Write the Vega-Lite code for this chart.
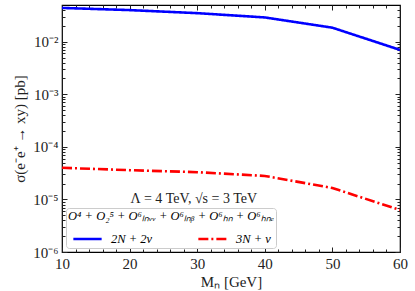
{
  "$schema": "https://vega.github.io/schema/vega-lite/v6.json",
  "width": 338,
  "height": 247,
  "autosize": "none",
  "padding": {"left": 62, "top": 5, "right": 15, "bottom": 39},
  "config": {
    "font": "Liberation Serif",
    "view": {"stroke": "black", "strokeWidth": 1.2},
    "axis": {"domain": false, "grid": false, "tickColor": "#222", "labelColor": "#222", "titleColor": "#222", "labelFontSize": 15, "titleFontSize": 15, "titleFontWeight": "normal"}
  },
  "datasets": {
    "curves": [
      {"M": 10, "sigma": 0.044, "process": "2N + 2ν"},
      {"M": 20, "sigma": 0.040, "process": "2N + 2ν"},
      {"M": 30, "sigma": 0.035, "process": "2N + 2ν"},
      {"M": 40, "sigma": 0.029, "process": "2N + 2ν"},
      {"M": 50, "sigma": 0.0185, "process": "2N + 2ν"},
      {"M": 60, "sigma": 0.0070, "process": "2N + 2ν"},
      {"M": 10, "sigma": 4.0e-5, "process": "3N + ν"},
      {"M": 20, "sigma": 3.6e-5, "process": "3N + ν"},
      {"M": 30, "sigma": 3.3e-5, "process": "3N + ν"},
      {"M": 40, "sigma": 2.8e-5, "process": "3N + ν"},
      {"M": 50, "sigma": 1.65e-5, "process": "3N + ν"},
      {"M": 60, "sigma": 6.3e-6, "process": "3N + ν"}
    ],
    "note": [{"label": "Λ = 4 TeV, √s = 3 TeV"}]
  },
  "layer": [
    {
      "data": {"name": "curves"},
      "mark": {"type": "line", "strokeWidth": 2.6, "clip": true},
      "encoding": {
        "x": {
          "field": "M", "type": "quantitative",
          "scale": {"domain": [10, 60], "nice": false, "zero": false},
          "axis": {
            "orient": "bottom",
            "values": [10,12,14,16,18,20,22,24,26,28,30,32,34,36,38,40,42,44,46,48,50,52,54,56,58,60],
            "labelExpr": "datum.value % 10 == 0 ? datum.label : ''",
            "tickSize": {"condition": {"test": "datum.value % 10 == 0", "value": -5}, "value": -3},
            "labelPadding": 9,
            "labelFlush": false,
            "labelOverlap": false,
            "title": "Mₙ [GeV]",
            "titlePadding": 1
          }
        },
        "y": {
          "field": "sigma", "type": "quantitative",
          "scale": {"type": "log", "domain": [1e-6, 0.05], "nice": false},
          "axis": {
            "orient": "left",
            "values": [1e-6,2e-6,3e-6,4e-6,5e-6,6e-6,7e-6,8e-6,9e-6,1e-5,2e-5,3e-5,4e-5,5e-5,6e-5,7e-5,8e-5,9e-5,1e-4,2e-4,3e-4,4e-4,5e-4,6e-4,7e-4,8e-4,9e-4,1e-3,2e-3,3e-3,4e-3,5e-3,6e-3,7e-3,8e-3,9e-3,1e-2,2e-2,3e-2,4e-2],
            "labelExpr": "abs(log(datum.value)/LN10 - round(log(datum.value)/LN10)) > 0.01 ? '' : (round(log(datum.value)/LN10) == -6 ? '10⁻⁶' : round(log(datum.value)/LN10) == -5 ? '10⁻⁵' : round(log(datum.value)/LN10) == -4 ? '10⁻⁴' : round(log(datum.value)/LN10) == -3 ? '10⁻³' : '10⁻²')",
            "tickSize": {"condition": {"test": "abs(log(datum.value)/LN10 - round(log(datum.value)/LN10)) < 0.01", "value": -5}, "value": -3},
            "labelPadding": 9,
            "labelFlush": false,
            "labelOverlap": false,
            "title": "σ(e⁻e⁺ → xy) [pb]",
            "titlePadding": 5
          }
        },
        "color": {
          "field": "process", "type": "nominal",
          "scale": {"domain": ["2N + 2ν", "3N + ν"], "range": ["#0000ff", "#ff0000"]},
          "legend": {
            "orient": "bottom-left",
            "offset": 4,
            "direction": "horizontal",
            "columns": 2,
            "title": "O⁴ + O₂⁵ + O⁶ₗₙᵥᵥ + O⁶ₗₙᵦ + O⁶ₕₙ + O⁶ₕₙₑ",
            "titleFontSize": 12.5,
            "titleLimit": 400,
            "titleFontWeight": "normal",
            "titleFontStyle": "italic",
            "titleAnchor": "middle",
            "titlePadding": 1,
            "labelFontSize": 12.5,
            "labelFontStyle": "italic",
            "labelOffset": 8,
            "symbolType": "stroke",
            "symbolSize": 800,
            "symbolStrokeWidth": 2.6,
            "columnPadding": 40,
            "padding": 2,
            "strokeColor": "#cccccc",
            "fillColor": "white",
            "cornerRadius": 3
          }
        },
        "strokeDash": {
          "field": "process", "type": "nominal",
          "scale": {"domain": ["2N + 2ν", "3N + ν"], "range": [[1, 0], [10, 3, 2, 3]]},
          "legend": null
        }
      }
    },
    {
      "data": {"name": "curves"},
      "mark": {"type": "line", "opacity": 0},
      "encoding": {
        "x": {
          "field": "M", "type": "quantitative",
          "axis": {
            "orient": "top",
            "values": [10,12,14,16,18,20,22,24,26,28,30,32,34,36,38,40,42,44,46,48,50,52,54,56,58,60],
            "labels": false,
            "tickSize": {"condition": {"test": "datum.value % 10 == 0", "value": -5}, "value": -3},
            "title": null
          }
        },
        "y": {
          "field": "sigma", "type": "quantitative",
          "axis": {
            "orient": "right",
            "values": [1e-6,2e-6,3e-6,4e-6,5e-6,6e-6,7e-6,8e-6,9e-6,1e-5,2e-5,3e-5,4e-5,5e-5,6e-5,7e-5,8e-5,9e-5,1e-4,2e-4,3e-4,4e-4,5e-4,6e-4,7e-4,8e-4,9e-4,1e-3,2e-3,3e-3,4e-3,5e-3,6e-3,7e-3,8e-3,9e-3,1e-2,2e-2,3e-2,4e-2],
            "labels": false,
            "tickSize": {"condition": {"test": "abs(log(datum.value)/LN10 - round(log(datum.value)/LN10)) < 0.01", "value": -5}, "value": -3},
            "title": null
          }
        }
      }
    },
    {
      "data": {"name": "note"},
      "mark": {"type": "text", "fontSize": 14, "color": "#222"},
      "encoding": {
        "x": {"datum": 29.5, "type": "quantitative", "axis": null},
        "y": {"datum": 1.0e-5, "type": "quantitative", "axis": null},
        "text": {"field": "label"}
      }
    }
  ],
  "resolve": {"axis": {"x": "independent", "y": "independent"}}
}
